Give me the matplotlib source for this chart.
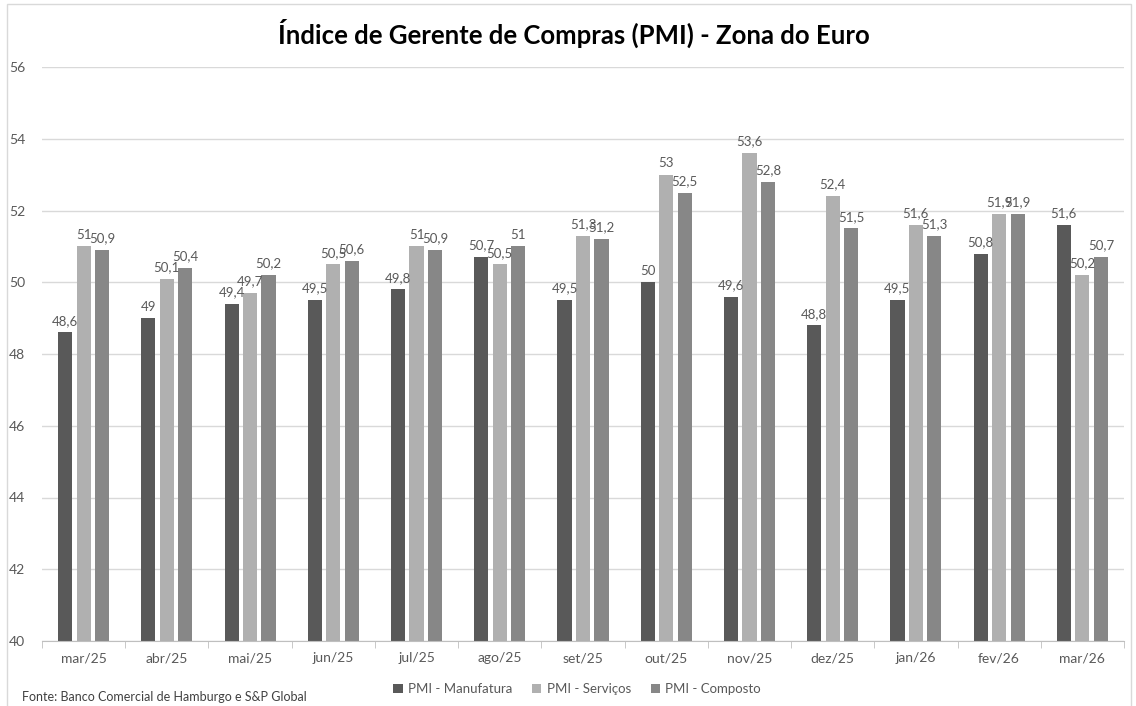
import matplotlib
matplotlib.use("Agg")
import matplotlib.pyplot as plt
import numpy as np
from matplotlib.patches import Rectangle

categories = ["mar/25", "abr/25", "mai/25", "jun/25", "jul/25", "ago/25", "set/25",
              "out/25", "nov/25", "dez/25", "jan/26", "fev/26", "mar/26"]
manufatura = [48.6, 49.0, 49.4, 49.5, 49.8, 50.7, 49.5, 50.0, 49.6, 48.8, 49.5, 50.8, 51.6]
servicos = [51.0, 50.1, 49.7, 50.5, 51.0, 50.5, 51.3, 53.0, 53.6, 52.4, 51.6, 51.9, 50.2]
composto = [50.9, 50.4, 50.2, 50.6, 50.9, 51.0, 51.2, 52.5, 52.8, 51.5, 51.3, 51.9, 50.7]
series_names = ["PMI - Manufatura", "PMI - Serviços", "PMI - Composto"]
colors = ["#595959", "#b0b0b0", "#878787"]
y_ticks = [40, 42, 44, 46, 48, 50, 52, 54, 56]

plt.rcParams['font.family'] = ['Lato', 'DejaVu Sans']

W, H = 1136, 706
fig = plt.figure(figsize=(W / 100, H / 100), dpi=100)
ax = fig.add_axes([42 / W, 1 - 641 / H, (1124 - 42) / W, (641 - 67) / H])

x = np.arange(len(categories))
width = 0.17
step = 0.222
for i, (vals, name, col) in enumerate(zip([manufatura, servicos, composto], series_names, colors)):
    pos = x + (i - 1) * step
    ax.bar(pos, np.array(vals) - 40, width=width, bottom=40, color=col, label=name, zorder=3)
    for p, v in zip(pos, vals):
        lbl = ("%g" % v).replace(".", ",")
        ax.annotate(lbl, (p, v), xytext=(0, 4), textcoords="offset points",
                    ha="center", va="bottom", fontsize=9.5, color="#595959", zorder=4)

ax.set_ylim(40, 56)
ax.set_xlim(-0.5, len(categories) - 0.5)
ax.set_yticks(y_ticks)
ax.set_yticklabels([str(t) for t in y_ticks])
ax.set_xticks(x)
ax.set_xticklabels(categories)
ax.set_xticks(np.arange(-0.5, len(categories), 1), minor=True)
ax.tick_params(axis="x", which="major", length=0, pad=8, labelsize=10, labelcolor="#595959")
ax.tick_params(axis="x", which="minor", length=5, color="#bfbfbf", direction="out")
ax.tick_params(axis="y", length=0, pad=12, labelsize=10, labelcolor="#595959")
ax.grid(axis="y", color="#d9d9d9", linewidth=1, zorder=0)
for s in ["top", "right", "left"]:
    ax.spines[s].set_visible(False)
ax.spines["bottom"].set_color("#bfbfbf")
ax.spines["bottom"].set_zorder(5)

fig.text(574 / W, 1 - 33 / H, "Índice de Gerente de Compras (PMI) - Zona do Euro",
         ha="center", va="center", fontsize=18.5, fontweight="bold", color="#000000")

leg = fig.legend(loc="center", bbox_to_anchor=(577 / W, 1 - 689 / H), ncol=3, frameon=False,
                 fontsize=9.5, handlelength=0.7, handleheight=0.7, handletextpad=0.4,
                 columnspacing=1.5)
for t in leg.get_texts():
    t.set_color("#595959")

fig.text(22 / W, 1 - 697 / H, "Fonte: Banco Comercial de Hamburgo e S&P Global",
         ha="left", va="center", fontsize=9, color="#404040")

fig.patches.append(Rectangle((7 / W, -0.01), (1131 - 7) / W, 1 - 4 / H + 0.01,
                             transform=fig.transFigure, fill=False, edgecolor="#d9d9d9",
                             linewidth=1))

fig.savefig("out.png", dpi=100)
